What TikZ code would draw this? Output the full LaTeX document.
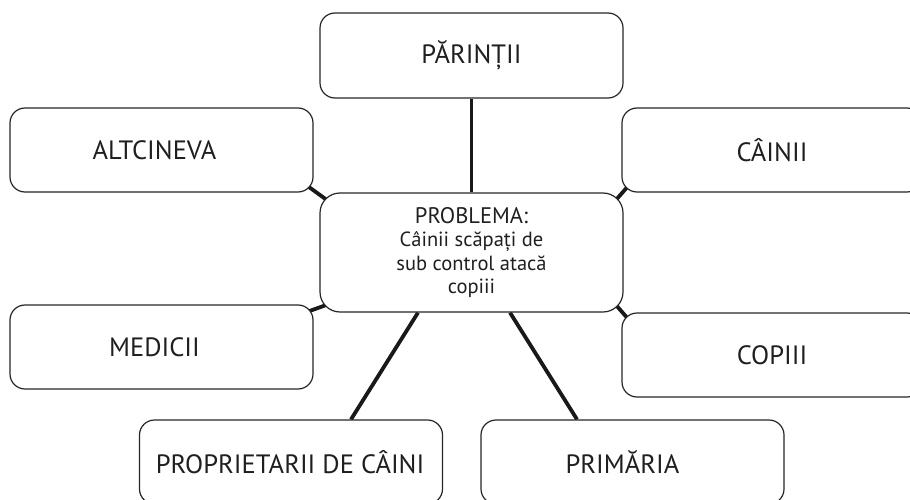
\documentclass[tikz,border=0pt]{standalone}
\usepackage{fontspec}
\setmainfont{PT Sans}
\usetikzlibrary{backgrounds}
\begin{document}
\begin{tikzpicture}[x=1pt,y=-1pt,
  box/.style={draw=black!85, line width=1.2pt, fill=white, rounded corners=15pt,
    minimum width=303pt, minimum height=84pt, inner sep=0pt,
    font=\fontsize{26.5}{30}\selectfont, text=black!88},
  link/.style={line width=3.8pt, draw=black!90}]
\useasboundingbox (0,0) rectangle (910,500);
\clip (0,0) rectangle (910,500);
\node[box, minimum height=119pt, rounded corners=20pt, align=center,
  font=\fontsize{20.5}{23.5}\selectfont] (prob) at (471.5,252.5)
  {{\fontsize{22.5}{23.5}\selectfont PROBLEMA:}\\Câinii scăpați de\\sub control atacă\\copiii};
\node[box, minimum height=85pt] (par) at (471.5,55.5) {PĂRINȚII};
\node[box] (alt) at (161.5,150) {ALTCINEVA\hspace*{14pt}};
\node[box, minimum width=300pt] (cai) at (772,150) {CÂINII};
\node[box] (med) at (161.5,347) {MEDICII\hspace*{14pt}};
\node[box, minimum width=300pt] (cop) at (772,355) {COPIII};
\node[box] (prop) at (291,462) {PROPRIETARII DE CÂINI\hspace*{2pt}};
\node[box] (prim) at (632.5,462) {PRIMĂRIA\hspace*{20pt}};
\begin{scope}[on background layer]
  \draw[link] (par.south) -- (prob.north);
  \draw[link] ([xshift=-8pt,yshift=8pt]alt.south east) -- ([xshift=8pt,yshift=-8pt]prob.north west);
  \draw[link] ([xshift=8pt,yshift=8pt]cai.south west) -- ([xshift=-8pt,yshift=-8pt]prob.north east);
  \draw[link] ([xshift=-8pt,yshift=-8pt]med.north east) -- ([xshift=8pt,yshift=8pt]prob.south west);
  \draw[link] ([xshift=-8pt,yshift=8pt]prob.south east) -- ([xshift=8pt,yshift=-8pt]cop.north west);
  \draw[link] ([xshift=-53.5pt]prob.south) -- ([xshift=60pt]prop.north);
  \draw[link] ([xshift=38.5pt]prob.south) -- ([xshift=-55.5pt]prim.north);
\end{scope}
\end{tikzpicture}
\end{document}
